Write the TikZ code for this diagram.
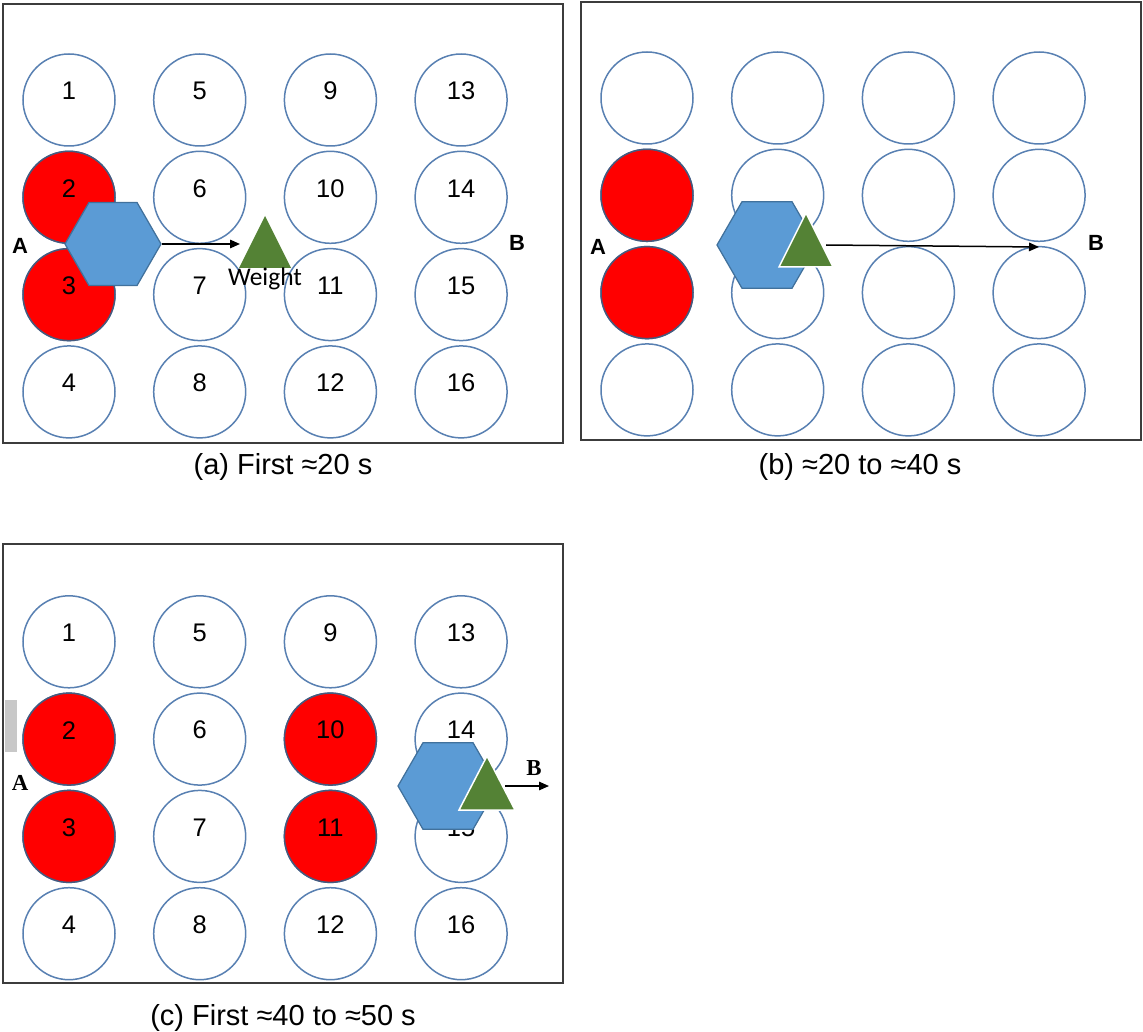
\documentclass[tikz,border=0pt]{standalone}
\usepackage{fontspec}
\setmainfont{Liberation Sans}
\newfontfamily\calibri{Carlito}
\newfontfamily\timesf{Liberation Serif}
\usetikzlibrary{arrows.meta,shapes.geometric}
\definecolor{wellblue}{RGB}{88,128,178}
\definecolor{hotrim}{RGB}{70,90,125}
\definecolor{hexblue}{HTML}{5B9BD5}
\definecolor{hexrim}{HTML}{41719C}
\definecolor{wtgreen}{HTML}{548235}
\definecolor{framegray}{RGB}{60,60,60}
\definecolor{tabgray}{RGB}{200,200,200}

\begin{document}
\begin{tikzpicture}[x=0.2mm,y=-0.2mm,
  well/.style={circle,draw=wellblue,line width=0.3mm,fill=white,
    minimum size=18.4mm,inner sep=0pt},
  hot/.style={well,fill=red,draw=hotrim},
  num/.style={font=\fontsize{14.5}{16}\selectfont,yshift=1.8mm},
  pusher/.style={regular polygon,regular polygon sides=6,minimum size=20mm,
    inner sep=0pt,fill=hexblue,draw=hexrim,line width=0.25mm},
  load/.style={fill=wtgreen},
  mv/.style={-{Triangle[length=2mm,width=1.7mm]},line width=0.3mm},
  frame/.style={draw=framegray,line width=0.4mm},
  side/.style={font=\bfseries\fontsize{12.5}{14}\selectfont},
  captext/.style={font=\fontsize{16.5}{19}\selectfont}]
   \fill[white] (0,0) rectangle (1143,1032);
   \useasboundingbox (0,0) rectangle (1143,1032);
   % (a) first 20 s
   \draw[frame] (3,4) rectangle (563,443);
   \foreach \c in {0,...,3}
    \foreach \r in {1,...,4} {
     \pgfmathtruncatemacro\n{4*\c+\r}
     \node[well] (a\n) at (69+130.7*\c,2.7+97.3*\r) {};
    }
   \foreach \n in {2,3} \node[hot] (ha\n) at (a\n) {};
   \foreach \n in {1,...,16} \node[num] (la\n) at (a\n) {\n};
   \node[pusher,minimum size=19.2mm] (pushA) at (113,244) {};
   \coordinate (tipA) at (240,244);
   \draw[mv] (pushA.east) -- (tipA);
   \fill[load] (265,216) -- (291,268) -- (239,268) -- cycle;
   \node[font=\calibri\fontsize{14.5}{16}\selectfont] (wtA) at (265,279) {Weight};
   \node[side] (endA1) at (20,246) {A};
   \node[side] (endB1) at (517,243) {B};
   \node[captext] (capA) at (283,467) {(a) First ≈20 s};
   % (b) 20 to 40 s
   \draw[frame] (581,2) rectangle (1141,440);
   \foreach \c in {0,...,3}
    \foreach \r in {1,...,4} {
     \pgfmathtruncatemacro\n{4*\c+\r}
     \node[well] (b\n) at (647+130.7*\c,0.7+97.3*\r) {};
    }
   \foreach \n in {2,3} \node[hot] (hb\n) at (b\n) {};
   \node[pusher] (pushB) at (767,245) {};
   \draw[load,draw=white,line width=0.3mm] (806,213) -- (833,267) -- (779,267) -- cycle;
   \coordinate (tailB) at (826,245);
   \coordinate (tipB) at (1039,247);
   \draw[mv] (tailB) -- (tipB);
   \node[side] (endA2) at (598,247) {A};
   \node[side] (endB2) at (1096,243) {B};
   \node[captext] (capB) at (860,467) {(b) ≈20 to ≈40 s};
   % (c) 40 to 50 s
   \draw[frame] (3,544) rectangle (563,983);
   \fill[tabgray] (5,700) rectangle (17,752);
   \foreach \c in {0,...,3}
    \foreach \r in {1,...,4} {
     \pgfmathtruncatemacro\n{4*\c+\r}
     \node[well] (c\n) at (69+130.7*\c,544.5+97.3*\r) {};
    }
   \foreach \n in {2,3,10,11} \node[hot] (hc\n) at (c\n) {};
   \foreach \n in {1,...,16} \node[num] (lc\n) at (c\n) {\n};
   \node[pusher] (pushC) at (448,786) {};
   \draw[load,draw=white,line width=0.3mm] (487,756) -- (515,810) -- (459,810) -- cycle;
   \coordinate (tailC) at (505,786);
   \coordinate (tipC) at (549,786);
   \draw[mv] (tailC) -- (tipC);
   \node[side,font=\timesf\bfseries\fontsize{13}{15}\selectfont] (endA3) at (20,783) {A};
   \node[side,font=\timesf\bfseries\fontsize{13}{15}\selectfont] (endB3) at (534,768) {B};
   \node[captext] (capC) at (283,1018) {(c) First ≈40 to ≈50 s};
\end{tikzpicture}
\end{document}
